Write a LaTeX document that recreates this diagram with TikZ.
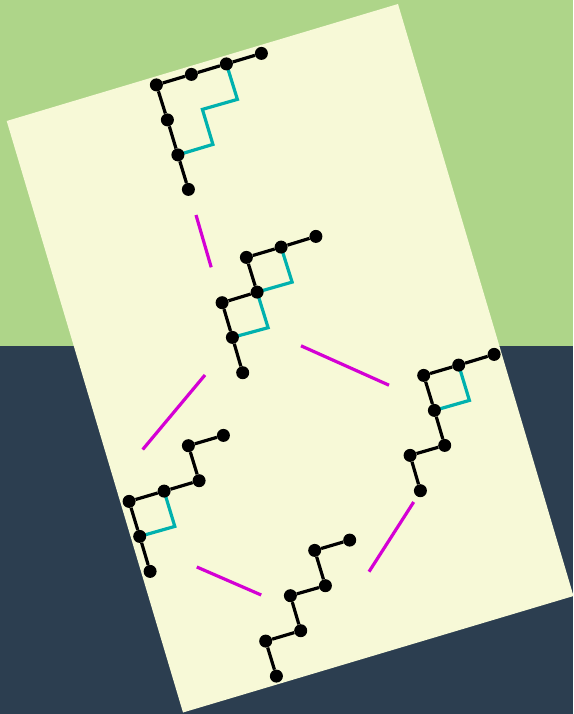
\documentclass[tikz,border=0pt]{standalone}
\definecolor{topbg}{HTML}{AED589}
\definecolor{botbg}{HTML}{2C3E50}
\definecolor{paper}{HTML}{F7F9D7}
\definecolor{tealc}{HTML}{00B1AE}
\definecolor{magc}{HTML}{D400D4}
\tikzset{
 dot/.style={circle,fill=black,draw=none,inner sep=0pt,minimum size=13pt},
 bond/.style={draw=black,line width=3.2pt},
 loopline/.style={draw=tealc,line width=3.2pt,line join=miter},
 movearrow/.style={draw=magc,line width=3.2pt},
}
\newcommand{\chain}[8]{%
 \node[dot] (#1a) at #2 {};
 \node[dot] (#1b) at #3 {};
 \node[dot] (#1c) at #4 {};
 \node[dot] (#1d) at #5 {};
 \node[dot] (#1e) at #6 {};
 \node[dot] (#1f) at #7 {};
 \node[dot] (#1g) at #8 {};
 \draw[bond] (#1a)--(#1b)--(#1c)--(#1d)--(#1e)--(#1f)--(#1g);
}
\begin{document}
\begin{tikzpicture}[x=1pt,y=-1pt]
\useasboundingbox (0,0) rectangle (573,714);
\fill[topbg] (0,0) rectangle (573,345.5);
\fill[botbg] (0,345.5) rectangle (573,714);
\fill[paper] (398,4) -- (573.5,596) -- (183,712.5) -- (6.7,121) -- cycle;
\begin{scope}[shift={(0.4,0.4)}]
% tree 1
\coordinate (t1) at (237,99); \coordinate (t2) at (202,109); \coordinate (t3) at (212.5,144);
\draw[loopline] (226,63.5) -- (t1) -- (t2) -- (t3) -- (177.5,154.5);
\chain{A}{(261,53)}{(226,63.5)}{(191,74)}{(156,84.5)}{(167,119.5)}{(177.5,154.5)}{(188,189)}
% tree 2
\coordinate (u1) at (291.7,281.7); \coordinate (u2) at (267.7,327.3);
\draw[loopline] (280.7,246.7) -- (u1) -- (256.7,291.7);
\draw[loopline] (256.7,291.7) -- (u2) -- (232,337);
\chain{B}{(315.5,236)}{(280.7,246.7)}{(246,257)}{(256.7,291.7)}{(221.7,302.3)}{(232,337)}{(242.3,372.3)}
% tree 3
\coordinate (v1) at (469,400);
\draw[loopline] (458.3,364.7) -- (v1) -- (434,410);
\chain{C}{(493.7,354)}{(458.3,364.7)}{(423.3,375)}{(434,410)}{(444.3,445)}{(409.7,455)}{(420,490.3)}
% tree 4
\coordinate (w1) at (174.4,526);
\draw[loopline] (163.7,490.7) -- (w1) -- (139.3,536);
\chain{D}{(223,435)}{(188,445.3)}{(198.7,480.3)}{(163.7,490.7)}{(128.7,501)}{(139.3,536)}{(149.7,571)}
% tree 5
\chain{E}{(349.3,539.7)}{(314.3,550)}{(325,585.3)}{(290,595.3)}{(300.3,630.3)}{(265.3,640.7)}{(276,675.7)}
\end{scope}
% moves
\coordinate (m1a) at (196,215); \coordinate (m1b) at (211.2,267.3);
\coordinate (m2a) at (205,375); \coordinate (m2b) at (142.7,449.5);
\coordinate (m3a) at (301,345.8); \coordinate (m3b) at (389,385.2);
\coordinate (m4a) at (413.7,502); \coordinate (m4b) at (369,571.7);
\coordinate (m5a) at (261.2,595); \coordinate (m5b) at (196.8,567);
\draw[movearrow] (m1a)--(m1b);
\draw[movearrow] (m2a)--(m2b);
\draw[movearrow] (m3a)--(m3b);
\draw[movearrow] (m4a)--(m4b);
\draw[movearrow] (m5a)--(m5b);
\end{tikzpicture}
\end{document}
